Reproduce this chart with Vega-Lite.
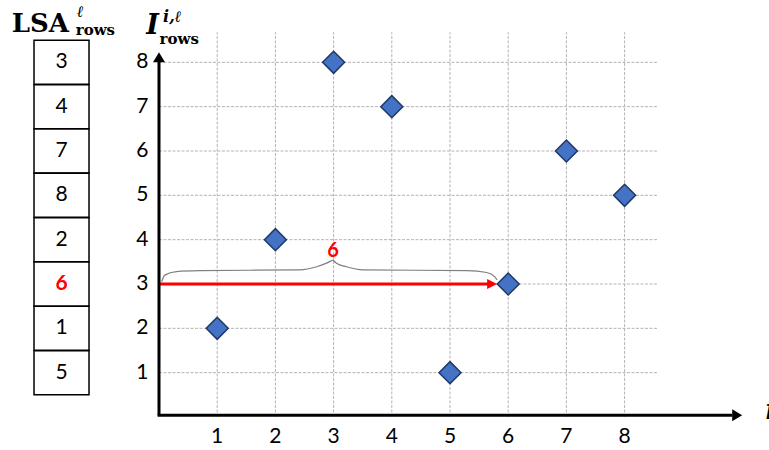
{
  "$schema": "https://vega.github.io/schema/vega-lite/v6.json",
  "width": 582,
  "height": 399,
  "autosize": {"type": "none"},
  "padding": {"left": 159, "top": 18, "right": 28, "bottom": 33},
  "background": "white",
  "config": {"view": {"stroke": null}},
  "datasets": {
    "points": [
      {"i": 1, "I": 2}, {"i": 2, "I": 4}, {"i": 3, "I": 8}, {"i": 4, "I": 7},
      {"i": 5, "I": 1}, {"i": 6, "I": 3}, {"i": 7, "I": 6}, {"i": 8, "I": 5}
    ],
    "ticks": [{"t": 1}, {"t": 2}, {"t": 3}, {"t": 4}, {"t": 5}, {"t": 6}, {"t": 7}, {"t": 8}],
    "brace": [
      {"part": "L", "bx": 0.046, "by": 3.05},
      {"part": "L", "bx": 0.10, "by": 3.20},
      {"part": "L", "bx": 0.30, "by": 3.28},
      {"part": "L", "bx": 0.70, "by": 3.30},
      {"part": "L", "bx": 2.42, "by": 3.32},
      {"part": "L", "bx": 2.71, "by": 3.39},
      {"part": "L", "bx": 2.88, "by": 3.47},
      {"part": "L", "bx": 2.985, "by": 3.54},
      {"part": "R", "bx": 2.985, "by": 3.54},
      {"part": "R", "bx": 3.05, "by": 3.47},
      {"part": "R", "bx": 3.22, "by": 3.39},
      {"part": "R", "bx": 3.51, "by": 3.32},
      {"part": "R", "bx": 5.29, "by": 3.30},
      {"part": "R", "bx": 5.63, "by": 3.26},
      {"part": "R", "bx": 5.77, "by": 3.16},
      {"part": "R", "bx": 5.81, "by": 3.09}
    ]
  },
  "layer": [
    {
      "data": {"name": "ticks"},
      "mark": {"type": "rule", "stroke": "#b4b4b4", "strokeWidth": 1, "strokeDash": [3, 1.5]},
      "encoding": {
        "x": {"field": "t", "type": "quantitative", "scale": {"domain": [0, 10], "nice": false, "zero": false}, "axis": null},
        "y": {"datum": 0, "type": "quantitative", "scale": {"domain": [0, 9], "nice": false, "zero": false}, "axis": null},
        "y2": {"datum": 8.68}
      }
    },
    {
      "data": {"name": "ticks"},
      "mark": {"type": "rule", "stroke": "#b4b4b4", "strokeWidth": 1, "strokeDash": [3, 1.5]},
      "encoding": {
        "y": {"field": "t", "type": "quantitative", "scale": {"domain": [0, 9], "nice": false, "zero": false}, "axis": null},
        "x": {"datum": 0, "type": "quantitative", "scale": {"domain": [0, 10], "nice": false, "zero": false}, "axis": null},
        "x2": {"datum": 8.56}
      }
    },
    {
      "data": {"name": "ticks"},
      "mark": {"type": "text", "font": "Lato", "fontSize": 21, "baseline": "middle", "align": "center", "color": "black"},
      "encoding": {
        "x": {"field": "t", "type": "quantitative", "scale": {"domain": [0, 10], "nice": false, "zero": false}, "axis": null},
        "y": {"datum": -0.46, "type": "quantitative", "scale": {"domain": [0, 9], "nice": false, "zero": false}, "axis": null},
        "text": {"field": "t"}
      }
    },
    {
      "data": {"name": "ticks"},
      "mark": {"type": "text", "font": "Lato", "fontSize": 21, "baseline": "middle", "align": "right", "color": "black"},
      "encoding": {
        "y": {"field": "t", "type": "quantitative", "scale": {"domain": [0, 9], "nice": false, "zero": false}, "axis": null},
        "x": {"datum": -0.18, "type": "quantitative", "scale": {"domain": [0, 10], "nice": false, "zero": false}, "axis": null},
        "text": {"field": "t"}
      }
    },
    {
      "data": {"name": "points"},
      "mark": {"type": "rect", "width": 55, "height": 44, "fill": "white", "stroke": "black", "strokeWidth": 1.5},
      "encoding": {
        "x": {"datum": -1.675, "type": "quantitative", "scale": {"domain": [0, 10], "nice": false, "zero": false}, "axis": null},
        "y": {"field": "I", "type": "quantitative", "scale": {"domain": [0, 9], "nice": false, "zero": false}, "axis": null}
      }
    },
    {
      "data": {"name": "points"},
      "transform": [{"filter": "datum.i != 6"}],
      "mark": {"type": "text", "font": "Lato", "fontSize": 21, "baseline": "middle", "align": "center", "color": "black"},
      "encoding": {
        "x": {"datum": -1.675, "type": "quantitative", "scale": {"domain": [0, 10], "nice": false, "zero": false}, "axis": null},
        "y": {"field": "I", "type": "quantitative", "scale": {"domain": [0, 9], "nice": false, "zero": false}, "axis": null},
        "text": {"field": "i"}
      }
    },
    {
      "data": {"name": "points"},
      "transform": [{"filter": "datum.i == 6"}],
      "mark": {"type": "text", "font": "Lato", "fontSize": 21, "fontWeight": "bold", "baseline": "middle", "align": "center", "color": "#ff0000"},
      "encoding": {
        "x": {"datum": -1.675, "type": "quantitative", "scale": {"domain": [0, 10], "nice": false, "zero": false}, "axis": null},
        "y": {"field": "I", "type": "quantitative", "scale": {"domain": [0, 9], "nice": false, "zero": false}, "axis": null},
        "text": {"field": "i"}
      }
    },
    {
      "data": {"name": "brace"},
      "mark": {"type": "line", "interpolate": "monotone", "stroke": "#7f7f7f", "strokeWidth": 1.2},
      "encoding": {
        "x": {"field": "bx", "type": "quantitative", "scale": {"domain": [0, 10], "nice": false, "zero": false}, "axis": null},
        "y": {"field": "by", "type": "quantitative", "scale": {"domain": [0, 9], "nice": false, "zero": false}, "axis": null},
        "detail": {"field": "part"}
      }
    },
    {
      "data": {"values": [{"lbl": "6"}]},
      "mark": {"type": "text", "font": "Lato", "fontSize": 20, "fontWeight": "bold", "color": "#ff0000", "baseline": "middle", "align": "center"},
      "encoding": {
        "x": {"datum": 2.99, "type": "quantitative", "scale": {"domain": [0, 10], "nice": false, "zero": false}, "axis": null},
        "y": {"datum": 3.74, "type": "quantitative", "scale": {"domain": [0, 9], "nice": false, "zero": false}, "axis": null},
        "text": {"field": "lbl"}
      }
    },
    {
      "data": {"values": [{}]},
      "mark": {"type": "rule", "stroke": "#ff0000", "strokeWidth": 3},
      "encoding": {
        "x": {"datum": 0, "type": "quantitative", "scale": {"domain": [0, 10], "nice": false, "zero": false}, "axis": null},
        "x2": {"datum": 5.68},
        "y": {"datum": 3, "type": "quantitative", "scale": {"domain": [0, 9], "nice": false, "zero": false}, "axis": null}
      }
    },
    {
      "data": {"values": [{}]},
      "mark": {"type": "point", "shape": "M0,0L-2,-1L-2,1Z", "size": 100, "filled": true, "fill": "#ff0000", "opacity": 1, "strokeWidth": 0},
      "encoding": {
        "x": {"datum": 5.81, "type": "quantitative", "scale": {"domain": [0, 10], "nice": false, "zero": false}, "axis": null},
        "y": {"datum": 3, "type": "quantitative", "scale": {"domain": [0, 9], "nice": false, "zero": false}, "axis": null}
      }
    },
    {
      "data": {"values": [{}]},
      "mark": {"type": "rule", "stroke": "black", "strokeWidth": 3},
      "encoding": {
        "x": {"datum": 0, "type": "quantitative", "scale": {"domain": [0, 10], "nice": false, "zero": false}, "axis": null},
        "y": {"datum": 0.04, "type": "quantitative", "scale": {"domain": [0, 9], "nice": false, "zero": false}, "axis": null},
        "y2": {"datum": 8.05}
      }
    },
    {
      "data": {"values": [{}]},
      "mark": {"type": "rule", "stroke": "black", "strokeWidth": 3},
      "encoding": {
        "x": {"datum": -0.025, "type": "quantitative", "scale": {"domain": [0, 10], "nice": false, "zero": false}, "axis": null},
        "x2": {"datum": 9.85},
        "y": {"datum": 0.04, "type": "quantitative", "scale": {"domain": [0, 9], "nice": false, "zero": false}, "axis": null}
      }
    },
    {
      "data": {"values": [{}]},
      "mark": {"type": "point", "shape": "M0,0L-1.2,2L1.2,2Z", "size": 100, "filled": true, "fill": "black", "opacity": 1, "strokeWidth": 0},
      "encoding": {
        "x": {"datum": 0, "type": "quantitative", "scale": {"domain": [0, 10], "nice": false, "zero": false}, "axis": null},
        "y": {"datum": 8.23, "type": "quantitative", "scale": {"domain": [0, 9], "nice": false, "zero": false}, "axis": null}
      }
    },
    {
      "data": {"values": [{}]},
      "mark": {"type": "point", "shape": "M0,0L-2,-1.2L-2,1.2Z", "size": 100, "filled": true, "fill": "black", "opacity": 1, "strokeWidth": 0},
      "encoding": {
        "x": {"datum": 10.02, "type": "quantitative", "scale": {"domain": [0, 10], "nice": false, "zero": false}, "axis": null},
        "y": {"datum": 0.04, "type": "quantitative", "scale": {"domain": [0, 9], "nice": false, "zero": false}, "axis": null}
      }
    },
    {
      "data": {"name": "points"},
      "mark": {"type": "point", "shape": "diamond", "size": 484, "filled": true, "fill": "#4472C4", "stroke": "#1F3864", "strokeWidth": 1.5, "opacity": 1},
      "encoding": {
        "x": {"field": "i", "type": "quantitative", "scale": {"domain": [0, 10], "nice": false, "zero": false}, "axis": null},
        "y": {"field": "I", "type": "quantitative", "scale": {"domain": [0, 9], "nice": false, "zero": false}, "axis": null}
      }
    },
    {
      "data": {"values": [
        {"txt": "LSA", "tx": -2.53, "ty": 8.68, "sz": 26},
        {"txt": "rows", "tx": -1.43, "ty": 8.62, "sz": 15},
        {"txt": "rows", "tx": 0.01, "ty": 8.42, "sz": 15}
      ]},
      "mark": {"type": "text", "font": "DejaVu Serif", "fontWeight": "bold", "align": "left", "baseline": "alphabetic", "color": "black"},
      "encoding": {
        "x": {"field": "tx", "type": "quantitative", "scale": {"domain": [0, 10], "nice": false, "zero": false}, "axis": null},
        "y": {"field": "ty", "type": "quantitative", "scale": {"domain": [0, 9], "nice": false, "zero": false}, "axis": null},
        "text": {"field": "txt"},
        "size": {"field": "sz", "type": "quantitative", "scale": null}
      }
    },
    {
      "data": {"values": [
        {"txt": "ℓ", "tx": -1.41, "ty": 9.03, "sz": 16},
        {"txt": "I", "tx": -0.22, "ty": 8.63, "sz": 27},
        {"txt": "i,ℓ", "tx": 0.07, "ty": 8.92, "sz": 16},
        {"txt": "i", "tx": 10.42, "ty": -0.05, "sz": 27}
      ]},
      "mark": {"type": "text", "font": "DejaVu Serif", "fontWeight": "bold", "fontStyle": "italic", "align": "left", "baseline": "alphabetic", "color": "black"},
      "encoding": {
        "x": {"field": "tx", "type": "quantitative", "scale": {"domain": [0, 10], "nice": false, "zero": false}, "axis": null},
        "y": {"field": "ty", "type": "quantitative", "scale": {"domain": [0, 9], "nice": false, "zero": false}, "axis": null},
        "text": {"field": "txt"},
        "size": {"field": "sz", "type": "quantitative", "scale": null}
      }
    }
  ]
}
